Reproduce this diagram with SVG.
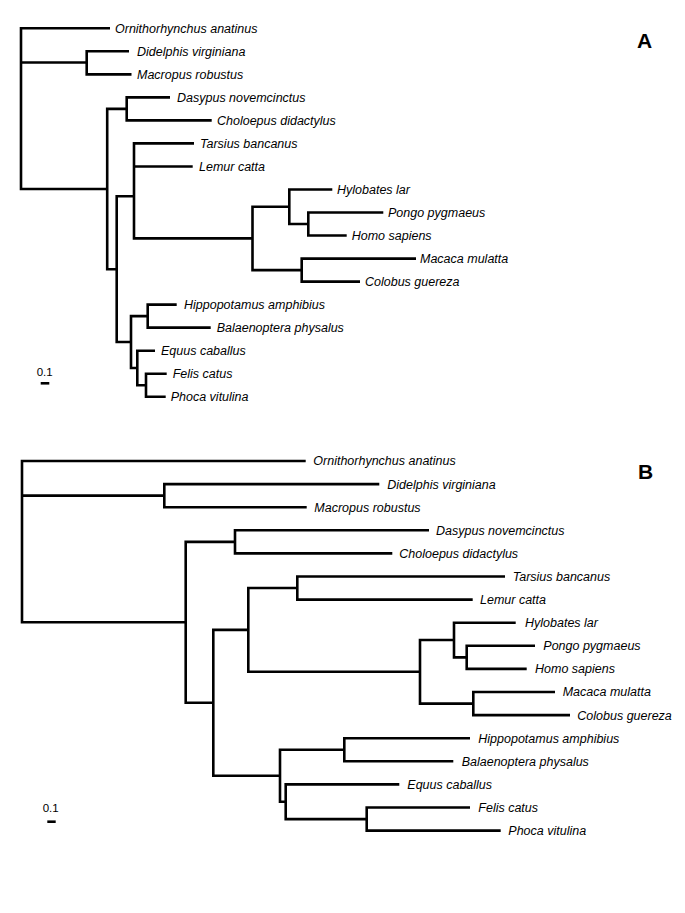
<svg xmlns="http://www.w3.org/2000/svg" width="685" height="913" viewBox="0 0 685 913">
<style>
.br{fill:none;stroke:#000;stroke-width:2.6;stroke-linejoin:miter;stroke-linecap:butt}
.lf{font-family:"Liberation Sans",Arial,sans-serif;font-style:italic;font-size:12.5px;fill:#000}
.sc{font-family:"Liberation Sans",Arial,sans-serif;font-size:11.5px;fill:#000}
.pl{font-family:"Liberation Sans",Arial,sans-serif;font-weight:bold;font-size:21px;fill:#000}
</style>
<rect width="685" height="913" fill="#fff"/>
<g id="treeA">
<g id="connectorsA">
<path class="br" d="M110,28.3 H21 V189 H107.2"/>
<path class="br" d="M21,62.5 H86.7"/>
<path class="br" d="M129,51.3 H86.7 V74.4 H131.5"/>
<path class="br" d="M126.7,108.9 H107.2 V269.2 H116.7"/>
<path class="br" d="M170,97.4 H126.7 V120.4 H211.7"/>
<path class="br" d="M134,196.3 H116.7 V342 H131"/>
<path class="br" d="M194,143.4 H134 V238.4 H252.5"/>
<path class="br" d="M134,166.5 H192.7"/>
<path class="br" d="M289.3,206.8 H252.5 V270.1 H301.7"/>
<path class="br" d="M332.3,189.5 H289.3 V224 H308.3"/>
<path class="br" d="M383.3,212.5 H308.3 V235.5 H346.7"/>
<path class="br" d="M416,258.6 H301.7 V281.6 H360"/>
<path class="br" d="M147.7,316.1 H131 V368 H137.3"/>
<path class="br" d="M176.7,304.6 H147.7 V327.6 H210.7"/>
<path class="br" d="M155,350.7 H137.3 V385.2 H146"/>
<path class="br" d="M166.7,373.7 H146 V396.7 H165.7"/>
</g>
<g id="A-Ornithorhynchus"><text class="lf" x="115" y="32.7">Ornithorhynchus anatinus</text></g>
<g id="A-Didelphis"><text class="lf" x="137" y="55.7">Didelphis virginiana</text></g>
<g id="A-Macropus"><text class="lf" x="137" y="78.8">Macropus robustus</text></g>
<g id="A-Dasypus"><text class="lf" x="177" y="101.8">Dasypus novemcinctus</text></g>
<g id="A-Choloepus"><text class="lf" x="217" y="124.8">Choloepus didactylus</text></g>
<g id="A-Tarsius"><text class="lf" x="200" y="147.8">Tarsius bancanus</text></g>
<g id="A-Lemur"><text class="lf" x="199" y="170.9">Lemur catta</text></g>
<g id="A-Hylobates"><text class="lf" x="337" y="193.9">Hylobates lar</text></g>
<g id="A-Pongo"><text class="lf" x="388" y="216.9">Pongo pygmaeus</text></g>
<g id="A-Homo"><text class="lf" x="351.7" y="239.9">Homo sapiens</text></g>
<g id="A-Macaca"><text class="lf" x="420" y="263">Macaca mulatta</text></g>
<g id="A-Colobus"><text class="lf" x="365" y="286">Colobus guereza</text></g>
<g id="A-Hippopotamus"><text class="lf" x="184" y="309">Hippopotamus amphibius</text></g>
<g id="A-Balaenoptera"><text class="lf" x="216.7" y="332">Balaenoptera physalus</text></g>
<g id="A-Equus"><text class="lf" x="161" y="355.1">Equus caballus</text></g>
<g id="A-Felis"><text class="lf" x="172.7" y="378.1">Felis catus</text></g>
<g id="A-Phoca"><text class="lf" x="170.7" y="401.1">Phoca vitulina</text></g>
<g id="A-scale"><text class="sc" x="36.7" y="375.8">0.1</text><path class="br" d="M40.7,383.3 H49.3"/></g>
<g id="A-label"><text class="pl" x="637" y="47.7">A</text></g>
</g>
<g id="treeB">
<g id="connectorsB">
<path class="br" d="M305.7,461 H22 V622.3 H185.7"/>
<path class="br" d="M22,495.6 H164.3"/>
<path class="br" d="M379.3,484.1 H164.3 V507.2 H306.7"/>
<path class="br" d="M235,541.9 H185.7 V702.8 H213.3"/>
<path class="br" d="M429,530.3 H235 V553.4 H392.3"/>
<path class="br" d="M248.3,629.9 H213.3 V775.7 H280"/>
<path class="br" d="M297.3,588 H248.3 V671.8 H420"/>
<path class="br" d="M505,576.5 H297.3 V599.6 H472.7"/>
<path class="br" d="M454,640 H420 V703.6 H473.3"/>
<path class="br" d="M515.7,622.7 H454 V657.4 H466.7"/>
<path class="br" d="M535,645.8 H466.7 V668.9 H526.7"/>
<path class="br" d="M555,692 H473.3 V715.1 H570"/>
<path class="br" d="M344.3,749.8 H280 V801.7 H285.7"/>
<path class="br" d="M470,738.2 H344.3 V761.3 H453.3"/>
<path class="br" d="M399.3,784.4 H285.7 V819.1 H366.7"/>
<path class="br" d="M470,807.5 H366.7 V830.6 H500.7"/>
</g>
<g id="B-Ornithorhynchus"><text class="lf" x="313.3" y="465.4">Ornithorhynchus anatinus</text></g>
<g id="B-Didelphis"><text class="lf" x="387.3" y="488.5">Didelphis virginiana</text></g>
<g id="B-Macropus"><text class="lf" x="314.3" y="511.6">Macropus robustus</text></g>
<g id="B-Dasypus"><text class="lf" x="436" y="534.7">Dasypus novemcinctus</text></g>
<g id="B-Choloepus"><text class="lf" x="399.3" y="557.8">Choloepus didactylus</text></g>
<g id="B-Tarsius"><text class="lf" x="512.7" y="580.9">Tarsius bancanus</text></g>
<g id="B-Lemur"><text class="lf" x="480" y="604">Lemur catta</text></g>
<g id="B-Hylobates"><text class="lf" x="525" y="627.1">Hylobates lar</text></g>
<g id="B-Pongo"><text class="lf" x="543.3" y="650.2">Pongo pygmaeus</text></g>
<g id="B-Homo"><text class="lf" x="535" y="673.3">Homo sapiens</text></g>
<g id="B-Macaca"><text class="lf" x="562.7" y="696.4">Macaca mulatta</text></g>
<g id="B-Colobus"><text class="lf" x="577.3" y="719.5">Colobus guereza</text></g>
<g id="B-Hippopotamus"><text class="lf" x="478.3" y="742.6">Hippopotamus amphibius</text></g>
<g id="B-Balaenoptera"><text class="lf" x="461.7" y="765.7">Balaenoptera physalus</text></g>
<g id="B-Equus"><text class="lf" x="407.3" y="788.8">Equus caballus</text></g>
<g id="B-Felis"><text class="lf" x="478.3" y="811.9">Felis catus</text></g>
<g id="B-Phoca"><text class="lf" x="508.3" y="835">Phoca vitulina</text></g>
<g id="B-scale"><text class="sc" x="42.7" y="812.4">0.1</text><path class="br" d="M47.3,821.7 H55.7"/></g>
<g id="B-label"><text class="pl" x="638" y="479.3">B</text></g>
</g>
</svg>
